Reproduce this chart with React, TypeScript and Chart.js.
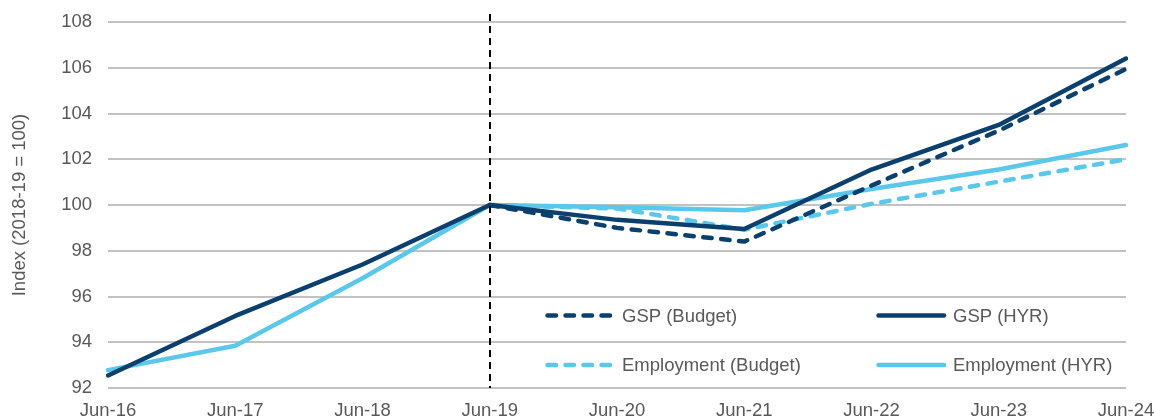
import React, { useEffect, useRef } from "react";
import { Chart, registerables } from "chart.js";

Chart.register(...registerables);

const categories = ["Jun-16", "Jun-17", "Jun-18", "Jun-19", "Jun-20", "Jun-21", "Jun-22", "Jun-23", "Jun-24"];
const gspBudget = [null, null, null, 100, 99.0, 98.4, 100.85, 103.25, 105.95];
const gspHyr = [92.55, 95.15, 97.4, 100, 99.35, 98.95, 101.55, 103.5, 106.4];
const empBudget = [null, null, null, 100, 99.85, 98.92, 100.05, 101.02, 102.0];
const empHyr = [92.78, 93.85, 96.8, 100, 99.9, 99.77, 100.7, 101.55, 102.62];
const yTicks = [92, 94, 96, 98, 100, 102, 104, 106, 108];
const markerCategory = "Jun-19";

const DARK = "#0b3f6e";
const LIGHT = "#5bc8ea";
const GRAY_TEXT = "#595959";
const FONT = "'Liberation Sans', Arial, sans-serif";
const FONT_SIZE = 18.5;
const CANVAS_H = 428;
const PLOT_BOTTOM = 388;

const legendPlugin = {
  id: "gridLegend",
  afterDatasetsDraw(chart: any) {
    const { ctx, chartArea } = chart;
    const w = chartArea.right - chartArea.left;
    const h = chartArea.bottom - chartArea.top;
    const cols = [(545 - 108) / 1018, (876 - 108) / 1018];
    const rows = [(315.5 - 22) / 366, (365 - 22) / 366];
    chart.data.datasets.forEach((ds: any, i: number) => {
      const col = i % 2;
      const row = Math.floor(i / 2);
      const x = chartArea.left + cols[col] * w;
      const y = chartArea.top + rows[row] * h;
      ctx.save();
      ctx.strokeStyle = ds.borderColor;
      ctx.lineWidth = ds.borderWidth;
      ctx.lineCap = "round";
      ctx.setLineDash(ds.borderDash || []);
      ctx.beginPath();
      ctx.moveTo(x + 2.5, y);
      ctx.lineTo(x + 68, y);
      ctx.stroke();
      ctx.setLineDash([]);
      ctx.fillStyle = GRAY_TEXT;
      ctx.font = `${FONT_SIZE}px ${FONT}`;
      ctx.textBaseline = "middle";
      ctx.textAlign = "left";
      ctx.fillText(ds.label, x + 77, y + 1);
      ctx.restore();
    });
  },
};

const markerPlugin = {
  id: "markerLine",
  afterDatasetsDraw(chart: any) {
    const { ctx, chartArea, scales } = chart;
    const x = Math.round(scales.x.getPixelForValue(categories.indexOf(markerCategory)));
    ctx.save();
    ctx.strokeStyle = "#000";
    ctx.lineWidth = 2;
    ctx.setLineDash([7, 5]);
    ctx.beginPath();
    ctx.moveTo(x, chartArea.top - 8);
    ctx.lineTo(x, chartArea.bottom);
    ctx.stroke();
    ctx.restore();
  },
};

export default function App() {
  const ref = useRef<HTMLCanvasElement>(null);
  useEffect(() => {
    if (!ref.current) return;
    const common = { borderWidth: 4.5, pointRadius: 0, tension: 0, borderCapStyle: "round", borderJoinStyle: "round" };
    const chart = new Chart(ref.current, {
      type: "line",
      data: {
        labels: categories,
        datasets: [
          { ...common, label: "GSP (Budget)", data: gspBudget, borderColor: DARK, backgroundColor: DARK, borderDash: [8.5, 9.5], order: 1 },
          { ...common, label: "GSP (HYR)", data: gspHyr, borderColor: DARK, backgroundColor: DARK, order: 2 },
          { ...common, label: "Employment (Budget)", data: empBudget, borderColor: LIGHT, backgroundColor: LIGHT, borderDash: [8.5, 9.5], order: 3 },
          { ...common, label: "Employment (HYR)", data: empHyr, borderColor: LIGHT, backgroundColor: LIGHT, order: 4 },
        ],
      } as any,
      options: {
        animation: false,
        responsive: true,
        maintainAspectRatio: false,
        layout: { padding: { left: 0, right: 28, top: 22, bottom: 0 } },
        plugins: { legend: { display: false }, tooltip: { enabled: false } },
        scales: {
          x: {
            grid: { display: false, drawTicks: false },
            border: { display: false },
            afterFit: (axis: any) => {
              axis.paddingLeft = 0;
              axis.paddingRight = 0;
              axis.height = CANVAS_H - PLOT_BOTTOM;
            },
            ticks: { color: GRAY_TEXT, font: { family: FONT, size: FONT_SIZE }, padding: 12, maxRotation: 0, autoSkip: false },
          },
          y: {
            min: 92,
            max: 108,
            afterBuildTicks: (axis: any) => {
              axis.ticks = yTicks.map((v) => ({ value: v }));
            },
            afterFit: (axis: any) => {
              axis.width = 108;
              axis.paddingTop = 0;
              axis.paddingBottom = 0;
            },
            grid: { color: "#c2c2c2", lineWidth: 2, drawTicks: false },
            border: { display: false },
            ticks: { color: GRAY_TEXT, font: { family: FONT, size: FONT_SIZE }, padding: 16 },
            title: { display: true, text: "Index (2018-19 = 100)", color: GRAY_TEXT, font: { family: FONT, size: FONT_SIZE }, padding: { top: 9, bottom: 0 } },
          },
        },
      },
      plugins: [markerPlugin, legendPlugin],
    });
    return () => chart.destroy();
  }, []);
  return (
    <div style={{ position: "fixed", left: 0, top: 0, width: 1154, height: CANVAS_H, background: "#fff" }}>
      <canvas ref={ref} />
    </div>
  );
}
